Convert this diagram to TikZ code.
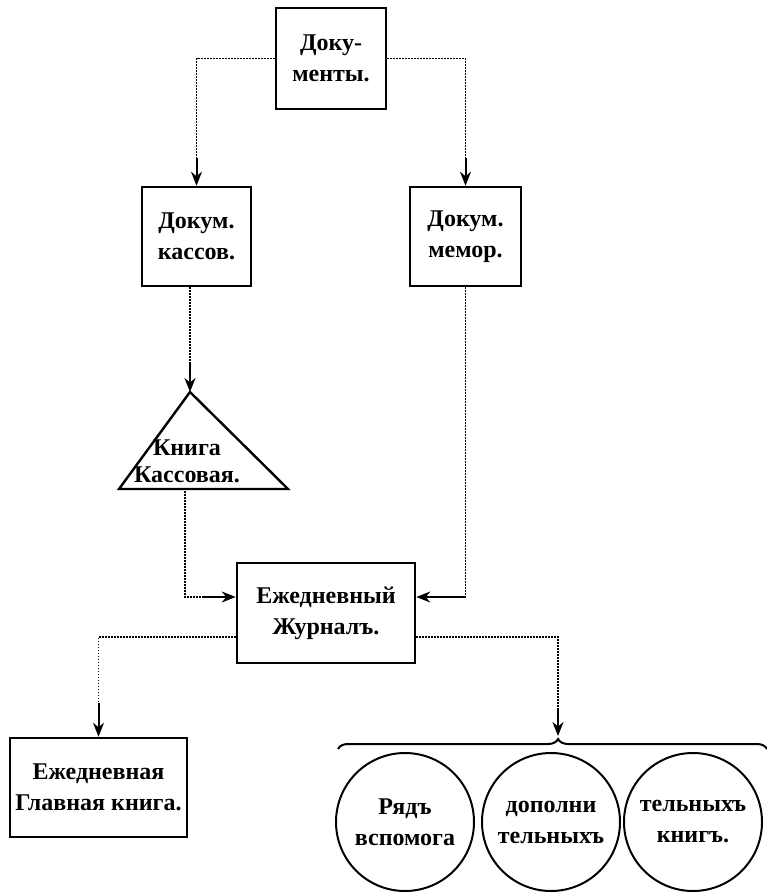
\documentclass[tikz,border=0pt]{standalone}
\usepackage{fontspec}
\setmainfont{Liberation Serif}
\usetikzlibrary{arrows.meta,decorations.pathreplacing}

\begin{document}
\begin{tikzpicture}[
      x=1pt,y=-1pt,
      book/.style={draw,line width=2.6pt,align=center,inner sep=0pt,
                   font=\bfseries\fontsize{24}{31}\selectfont},
      ring/.style={draw,circle,line width=2pt,minimum size=138pt,
                   align=center,inner sep=0pt,
                   font=\bfseries\fontsize{24}{31}\selectfont},
      label/.style={align=center,inner sep=0pt,
                    font=\bfseries\fontsize{24}{27}\selectfont},
      dots/.style={line width=1.5pt,dash pattern=on 1.5pt off 1.5pt},
      arr/.style={-{Stealth[length=14pt,width=11pt]},line width=2pt},
      brc/.style={decorate,decoration={brace,amplitude=10pt,aspect=0.513},
                  line width=2pt},
    ]
    \useasboundingbox[fill=white] (0,0) rectangle (767,894);

    \node[book,minimum width=110pt,minimum height=101pt] (docs)  at (331,58.5)  {Доку-\\менты.};
    \node[book,minimum width=109pt,minimum height=99pt]  (kass)  at (196.5,236.5) {Докум.\\кассов.};
    \node[book,minimum width=111pt,minimum height=99pt]  (memo)  at (465.5,236.5) {Докум.\\мемор.};
    \node[book,minimum width=178pt,minimum height=100pt] (journal) at (326,613) {Ежедневный\\Журналъ.};
    \node[book,minimum width=177pt,minimum height=99pt]  (glavn) at (98.5,787.5) {Ежедневная\\Главная книга.};

    \coordinate (apex) at (190,392);
    \coordinate (tl)   at (119,489);
    \coordinate (tr)   at (288,489);
    \draw[line width=2.4pt,line join=miter] (apex) -- (tl) -- (tr) -- cycle;
    \node[label] (kniga) at (187,461) {Книга\\Кассовая.};

    \node[ring] (ryad)   at (405,822) {Рядъ\\вспомога};
    \node[ring] (dopoln) at (551,822) {дополни\\тельныхъ};
    \node[ring] (knig)   at (693,822) {тельныхъ\\книгъ.};

    \coordinate (k1) at (196.5,158);
    \coordinate (m1) at (465.5,158);
    \coordinate (t1) at (190,364);
    \coordinate (tb) at (185,491);
    \coordinate (j1) at (203,597);
    \coordinate (m2) at (465.5,597);
    \coordinate (g1) at (98.5,703);
    \coordinate (b1) at (558,710);
    \coordinate (bt) at (558,736);
    \coordinate (bl) at (338,749);
    \coordinate (br) at (767,749);

    \draw[dots] (docs.west) -| (k1);
    \draw[arr]  (k1) -- (kass.north);
    \draw[dots] (docs.east) -| (m1);
    \draw[arr]  (m1) -- (memo.north);
    \draw[dots] (t1 |- kass.south) -- (t1);
    \draw[arr]  (t1) -- (apex);
    \draw[dots] (tb) |- (j1);
    \draw[arr]  (j1) -- (j1 -| journal.west);
    \draw[dots] (memo.south) -- (m2);
    \draw[arr]  (m2) -- (m2 -| journal.east);
    \draw[dots] ([yshift=-24pt]journal.west) -| (g1);
    \draw[arr]  (g1) -- (glavn.north);
    \draw[dots] ([yshift=-24pt]journal.east) -| (b1);
    \draw[arr]  (b1) -- (bt);
    \draw[brc]  (bl) -- (br);
  \end{tikzpicture}
\end{document}
